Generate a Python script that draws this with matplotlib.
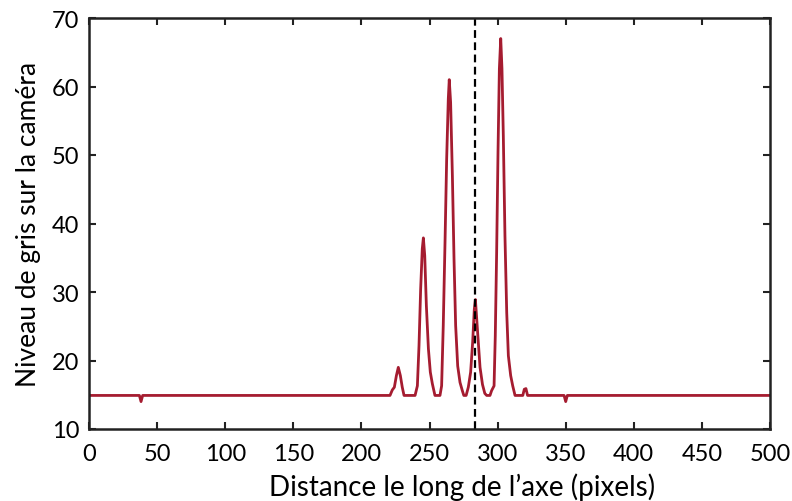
import matplotlib
matplotlib.use("Agg")
import matplotlib.pyplot as plt

# Profile (x in pixels, grey level)
x_pos = [0, 37.0, 38.2, 39.4,
         221.0, 222.7, 224.2, 225.7, 227.1, 228.6, 230.0, 231.3,
         239.4, 241.1, 242.3, 243.5, 244.7, 245.5, 246.5, 247.7, 249.2, 250.6, 252.1, 254.0,
         257.7, 258.9, 260.1, 261.4, 262.6, 263.8, 264.5, 265.5, 266.8, 268.0, 269.2, 270.7,
         272.4, 274.1, 275.2,
         276.9, 278.5, 280.2, 281.7, 282.9, 283.7, 285.2, 287.1, 288.9, 290.6,
         292.0, 294.4, 295.6, 297.4, 298.3, 299.3, 300.3, 301.3, 302.3, 303.2, 304.2, 305.4,
         306.7, 307.9, 309.6, 311.1, 312.8,
         318.5, 319.6, 320.8, 322.0,
         348.8, 350.0, 351.2, 500]
grey = [14.9, 14.9, 14.0, 14.9,
        14.9, 15.7, 16.1, 17.8, 19.0, 17.8, 16.1, 14.9,
        14.9, 16.3, 22.2, 30.4, 36.3, 37.9, 35.3, 28.0, 21.7, 18.3, 16.6, 14.9,
        14.9, 16.3, 25.1, 37.3, 49.4, 58.2, 61.0, 57.7, 47.0, 34.8, 25.1, 19.2,
        16.8, 15.6, 14.9,
        14.9, 16.1, 18.3, 22.7, 27.5, 28.9, 24.5, 19.0, 16.5, 15.2,
        14.9, 14.9, 15.6, 16.3, 23.6, 35.8, 50.4, 62.6, 67.0, 62.6, 52.8, 38.2,
        27.0, 20.7, 17.8, 16.3, 14.9,
        14.9, 15.8, 15.9, 14.9,
        14.9, 14.0, 14.9, 14.9]
marker_x = 283.5

x_ticks = [0, 50, 100, 150, 200, 250, 300, 350, 400, 450, 500]
y_ticks = [10, 20, 30, 40, 50, 60, 70]

plt.rcParams['font.family'] = ['Lato', 'DejaVu Sans']

fig = plt.figure(figsize=(7.92, 5.02), dpi=100)
ax = fig.add_axes([89/792, 1 - 430/502, (770-89)/792, (430-19)/502])

ax.plot(x_pos, grey, color='#A51C30', lw=2.0, solid_joinstyle='round')
ax.axvline(marker_x, color='black', lw=1.6, dashes=(3.5, 2))

ax.set_xlim(0, 500)
ax.set_ylim(10, 70)
ax.set_xticks(x_ticks)
ax.set_yticks(y_ticks)
ax.tick_params(direction='in', length=5, width=1.5, labelsize=17,
               top=True, right=True, colors='#222222', labelcolor='black')
ax.tick_params(axis='x', pad=10)
ax.tick_params(axis='y', pad=7)
for s in ax.spines.values():
    s.set_linewidth(1.8)
    s.set_color('#222222')

ax.set_xlabel("Distance le long de l\u2019axe (pixels)", fontsize=20)
ax.xaxis.set_label_coords(0.548, -0.105, transform=ax.transAxes)
ax.xaxis.label.set_va('top')
ax.set_ylabel("Niveau de gris sur la caméra", fontsize=19, labelpad=8)

fig.savefig("out.png", dpi=100)
